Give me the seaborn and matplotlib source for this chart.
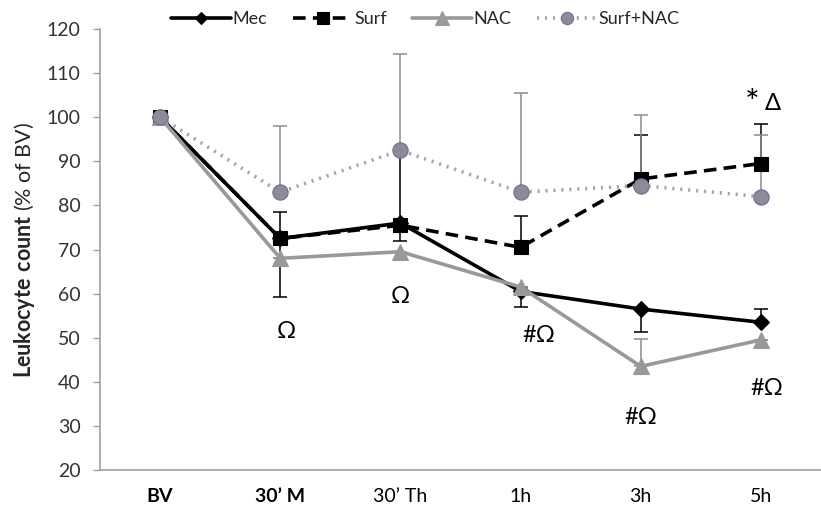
import numpy as np
import pandas as pd
import matplotlib
matplotlib.use("Agg")
import matplotlib.pyplot as plt
import seaborn as sns
from matplotlib.lines import Line2D

# time points and group means (% of BV)
times = ["BV", "30\u2019 M", "30\u2019 Th", "1h", "3h", "5h"]
mec = [100, 72.5, 76, 60.5, 56.5, 53.5]
surf = [100, 72.5, 75.5, 70.5, 86, 89.5]
nac = [100, 68, 69.5, 61.5, 43.5, 49.5]
surf_nac = [100, 83, 92.5, 83, 84.5, 82]

# error bars (lower, upper), one direction shown as in the original figure
mec_lo = [0, 13.3, 4, 3.5, 5.3, 0]
mec_up = [0, 0, 16, 0, 0, 3]
surf_lo = [0, 0, 0, 0, 0, 0]
surf_up = [0, 6, 0, 7.2, 10, 9]
nac_lo = [0, 0, 0, 0, 0, 0]
nac_up = [0, 0, 0, 0, 6.2, 0]
snac_lo = [0, 0, 0, 0, 0, 0]
snac_up = [0, 15, 21.8, 22.4, 16, 14]

# significance marks
ann_text = ["\u03a9", "\u03a9", "#\u03a9", "#\u03a9", "#\u03a9", "*", "\u0394"]
ann_x = [1.05, 2.0, 3.15, 4.0, 5.05, 4.93, 5.1]
ann_y = [51.5, 59.3, 50.5, 32.0, 38.5, 103.0, 103.0]
ann_size = [17, 17, 17, 17, 17, 25, 17]

sns.set_theme(style="white")
plt.rcParams["font.family"] = ["Lato", "DejaVu Sans"]
plt.rcParams["mathtext.fontset"] = "custom"
plt.rcParams["mathtext.rm"] = "Lato"
plt.rcParams["mathtext.bf"] = "Lato:bold"

fig = plt.figure(figsize=(8.21, 5.09), dpi=100)
ax = fig.add_axes([0.1218, 0.0766, 0.8782, 0.8664])

x = np.arange(len(times))
series = [
    ("Mec", mec, mec_lo, mec_up, "black", "-", "D", 8, "black", "black"),
    ("Surf", surf, surf_lo, surf_up, "black", (0, (3.5, 2)), "s", 10, "black", "black"),
    ("NAC", nac, nac_lo, nac_up, "#999999", "-", "^", 12, "#999999", "#8c8c8c"),
    ("Surf+NAC", surf_nac, snac_lo, snac_up, "#a6a6a6", (0, (0.6, 1.6)), "o", 11, "#8c8c96", "#8c8c8c"),
]

handles = []
for name, vals, lo, up, col, ls, mk, ms, mfc, ecol in series:
    df = pd.DataFrame({"x": x, "y": vals})
    ax.errorbar(x, vals, yerr=[lo, up], fmt="none", ecolor=ecol,
                elinewidth=1.1, capsize=5, capthick=1.1, zorder=1)
    mec_col = "#8064a2" if name == "Surf+NAC" else mfc
    sns.lineplot(data=df, x="x", y="y", ax=ax, color=col, linewidth=2.6,
                 linestyle=ls, marker=mk, markersize=ms, markerfacecolor=mfc,
                 markeredgecolor=mec_col, markeredgewidth=0.8, sort=False,
                 zorder=3, legend=False)
    handles.append(Line2D([0], [0], color=col, lw=2.6, linestyle=ls, marker=mk,
                          markersize=ms * 0.8, markerfacecolor=mfc,
                          markeredgecolor=mec_col, markeredgewidth=0.8))

for t, xx, yy, fs in zip(ann_text, ann_x, ann_y, ann_size):
    ax.text(xx, yy, t, ha="center", va="center", fontsize=fs, color="black")

ax.set_xlim(-0.5, 5.5)
ax.set_ylim(20, 120)
ax.set_yticks(np.arange(20, 121, 10))
ax.set_xticks(x)
ax.set_xticklabels(times)
for i, lab in enumerate(ax.get_xticklabels()):
    if i < 2:
        lab.set_fontweight("bold")
ax.tick_params(axis="x", labelsize=14, length=0, pad=13, colors="black")
ax.tick_params(axis="y", labelsize=14, length=5, width=1, color="#a0a0a0",
               direction="out", left=True, pad=9, labelcolor="#333333")
ax.set_xlabel("")
ax.set_ylabel(r"$\bf{Leukocyte\ count}$ (% of BV)", fontsize=15.5, labelpad=7)

for s in ["top", "right"]:
    ax.spines[s].set_visible(False)
for s in ["left", "bottom"]:
    ax.spines[s].set_color("#a0a0a0")
    ax.spines[s].set_linewidth(1.2)

fig.legend(handles, ["Mec", "Surf", "NAC", "Surf+NAC"], loc="center",
           bbox_to_anchor=(0.518, 0.963), ncol=4, frameon=False, fontsize=13,
           handlelength=3.3, handletextpad=0.1, columnspacing=1.4)

fig.savefig("out.png", dpi=100)
